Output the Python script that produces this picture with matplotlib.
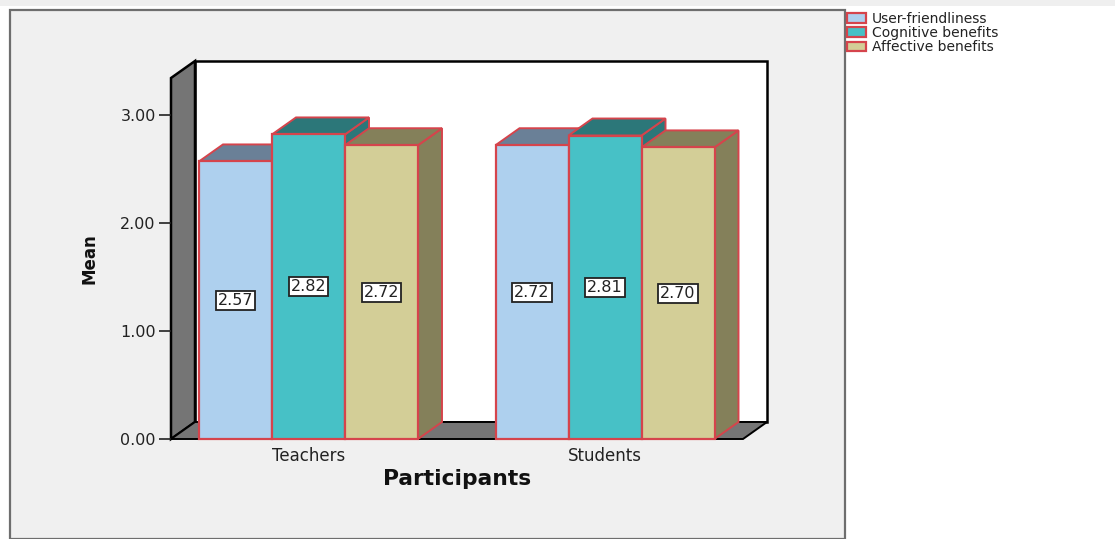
import matplotlib
matplotlib.use("Agg")
import matplotlib.pyplot as plt
from matplotlib.patches import Polygon, Rectangle, Patch

groups = ["Teachers", "Students"]
series = ["User-friendliness", "Cognitive benefits", "Affective benefits"]
values = {
    "User-friendliness": [2.57, 2.72],
    "Cognitive benefits": [2.82, 2.81],
    "Affective benefits": [2.72, 2.70],
}
yticks = [0, 1, 2, 3]
front = ["#AED0EE", "#47C1C6", "#D3CE97"]
shade = ["#6A8097", "#2C7779", "#84805A"]
EDGE = "#D5444C"

W, H = 1115, 539
fig = plt.figure(figsize=(W / 100, H / 100), dpi=100, facecolor="white")


def fx(p):
    return p / W


def fy(p):
    return 1 - p / H


fig.add_artist(Rectangle((0, fy(6)), 1, 6 / H, transform=fig.transFigure,
                         fc="#EFEFEF", ec="none", zorder=-2))
fig.add_artist(Rectangle((fx(10), fy(539)), 835 / W, 529 / H, transform=fig.transFigure,
                         fc="#F0F0F0", ec="#6E6E6E", lw=1.6, zorder=-1))

ax = fig.add_axes([fx(171), fy(439), 596 / W, 378 / H], zorder=5)
PX_X, PX_Y = 296.5, 108.0
ax.set_xlim((171 - 308.5) / PX_X, (767 - 308.5) / PX_X)
ax.set_ylim(0, 378 / PX_Y)
ax.patch.set_alpha(0)
for s in ax.spines.values():
    s.set_visible(False)

dx, dy = 24 / PX_X, 17 / PX_Y
x0, x1 = ax.get_xlim()
y1 = ax.get_ylim()[1]
fl = x1 - dx           # right end of the front floor edge
ty = y1 - dy           # top of the front side of the wall

# walls and floor
ax.add_patch(Rectangle((x0 + dx, dy), fl - x0, y1 - dy, fc="white", ec="black", lw=1.8, zorder=1,
                       clip_on=False))
ax.add_patch(Polygon([(x0, 0), (x0, ty), (x0 + dx, y1), (x0 + dx, dy)],
                     fc="#757575", ec="black", lw=1.8, zorder=1.1, clip_on=False))
ax.add_patch(Polygon([(x0, 0), (fl, 0), (x1, dy), (x0 + dx, dy)],
                     fc="#757575", ec="black", lw=1.4, zorder=1.1, clip_on=False))

bw = 73 / PX_X
z = 2.0
for g in range(len(groups)):
    for i, name in enumerate(series):
        v = values[name][g]
        left = g + (i - 1.5) * bw
        right = left + bw
        ax.add_patch(Polygon([(right, 0), (right + dx, dy), (right + dx, v + dy), (right, v)],
                             fc=shade[i], ec=EDGE, lw=1.4, zorder=z))
        ax.add_patch(Polygon([(left, v), (left + dx, v + dy), (right + dx, v + dy), (right, v)],
                             fc=shade[i], ec=EDGE, lw=1.4, zorder=z))
        ax.bar(left, v, width=bw, align="edge", color=front[i], edgecolor=EDGE, lw=1.6,
               zorder=z + 0.1, clip_on=False)
        z += 0.2

for g in range(len(groups)):
    for i, name in enumerate(series):
        v = values[name][g]
        ax.text(g + (i - 1) * bw, v / 2, f"{v:.2f}", ha="center", va="center", fontsize=11.5,
                color="#222222", zorder=10,
                bbox=dict(boxstyle="square,pad=0.12", fc="white", ec="#222222", lw=1.3))

ax.set_yticks(yticks)
ax.set_yticklabels([f"{t:.2f}" for t in yticks], fontsize=11.5, color="#222222")
ax.tick_params(axis="y", length=9, width=1.2, color="#222222", pad=2)
ax.set_xticks(range(len(groups)))
ax.set_xticklabels(groups, fontsize=12, color="#222222")
ax.tick_params(axis="x", length=0, pad=6)

fig.text(fx(457), fy(479), "Participants", ha="center", va="center", fontsize=15.7,
         fontweight="bold", color="#111111")
fig.text(fx(90), fy(259), "Mean", ha="center", va="center", rotation=90, fontsize=12,
         fontweight="bold", color="#111111")

handles = [Patch(fc=front[i], ec=EDGE, lw=1.6, label=series[i]) for i in range(3)]
fig.legend(handles=handles, loc="upper left", bbox_to_anchor=(fx(846), fy(11)), frameon=False,
           fontsize=10, labelcolor="#222222", handlelength=1.4, handleheight=0.7,
           handletextpad=0.4, labelspacing=0.02, borderpad=0.05, borderaxespad=0)

fig.savefig("out.png", dpi=100, facecolor="white")
